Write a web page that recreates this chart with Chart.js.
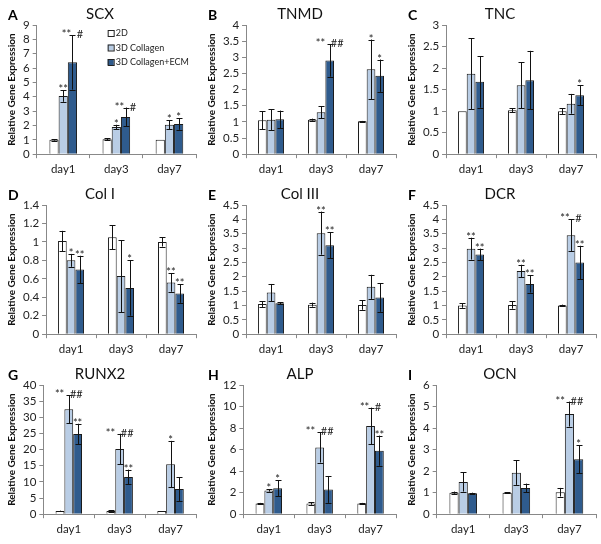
<!DOCTYPE html>
<html>
<head>
<meta charset="utf-8">
<script src="https://cdn.jsdelivr.net/npm/chart.js@4.4.0/dist/chart.umd.min.js"></script>
<style>
  body { margin: 0; background: #fff; }
  #wrap { position: relative; width: 601px; height: 544px; }
  .cell { position: absolute; }
</style>
</head>
<body>
<div id="wrap"></div>
<script>
// categories and groups
const days = ['day1', 'day3', 'day7'];
const groups = ['2D', '3D Collagen', '3D Collagen+ECM'];

// means per group: [2D], [3D Collagen], [3D Collagen+ECM], each over day1/day3/day7
const scxMean = [[1.0, 1.05, 1.0], [4.05, 1.9, 2.05], [6.4, 2.6, 2.1]];
const scxErr = [[0.05, 0.07, 0], [0.4, 0.15, 0.3], [1.9, 0.65, 0.4]];
const scxSig = [['', '', ''], ['**', '*', '*'], ['** #', '** #', '*']];

const tnmdMean = [[1.05, 1.07, 1.02], [1.07, 1.3, 2.63], [1.08, 2.9, 2.43]];
const tnmdErr = [[0.28, 0.03, 0.01], [0.32, 0.18, 0.92], [0.27, 0.5, 0.5]];
const tnmdSig = [['', '', ''], ['', '', '*'], ['', '** ##', '*']];

const tncMean = [[1.0, 1.02, 1.0], [1.87, 1.6, 1.17], [1.68, 1.72, 1.37]];
const tncErr = [[0, 0.05, 0.07], [0.82, 0.53, 0.23], [0.6, 0.68, 0.23]];
const tncSig = [['', '', ''], ['', '', ''], ['', '', '*']];

const col1Mean = [[1.01, 1.05, 1.0], [0.8, 0.63, 0.56], [0.7, 0.5, 0.44]];
const col1Err = [[0.11, 0.13, 0.05], [0.07, 0.39, 0.1], [0.15, 0.3, 0.1]];
const col1Sig = [['', '', ''], ['*', '', '**'], ['**', '*', '**']];

const col3Mean = [[1.05, 1.03, 1.02], [1.45, 3.52, 1.65], [1.08, 3.1, 1.28]];
const col3Err = [[0.1, 0.07, 0.17], [0.3, 0.75, 0.42], [0.03, 0.45, 0.5]];
const col3Sig = [['', '', ''], ['', '**', ''], ['', '**', '']];

const dcrMean = [[1.0, 1.02, 1.0], [2.98, 2.2, 3.45], [2.78, 1.75, 2.5]];
const dcrErr = [[0.08, 0.13, 0.03], [0.38, 0.22, 0.55], [0.2, 0.3, 0.58]];
const dcrSig = [['', '', ''], ['**', '**', '** #'], ['**', '**', '**']];

const runx2Mean = [[1.0, 1.0, 1.0], [32.5, 20.2, 15.5], [24.8, 11.5, 7.8]];
const runx2Err = [[0.1, 0.2, 0], [4.3, 4.7, 7.2], [3.2, 2.3, 3.7]];
const runx2Sig = [['', '', ''], ['** ##', '** ##', '*'], ['**', '**', '']];

const alpMean = [[1.0, 1.0, 1.0], [2.2, 6.2, 8.2], [2.4, 2.3, 5.9]];
const alpErr = [[0.05, 0.12, 0.05], [0.1, 1.4, 1.7], [0.75, 1.25, 1.4]];
const alpSig = [['', '', ''], ['*', '** ##', '** #'], ['*', '', '**']];

const ocnMean = [[1.0, 1.0, 1.02], [1.5, 1.93, 4.65], [0.97, 1.22, 2.55]];
const ocnErr = [[0.05, 0.03, 0.2], [0.45, 0.57, 0.58], [0.03, 0.2, 0.65]];
const ocnSig = [['', '', ''], ['', '', '** ##'], ['', '', '*']];

const fillColors = ['#ffffff', '#b9cde5', '#2f5b8d'];
const FONT = 'Lato, "Open Sans", sans-serif';

const panels = [
    { letter: 'A', name: 'SCX', mean: scxMean, err: scxErr, sig: scxSig, max: 9, step: 1, legend: true },
    { letter: 'B', name: 'TNMD', mean: tnmdMean, err: tnmdErr, sig: tnmdSig, max: 4, step: 0.5 },
    { letter: 'C', name: 'TNC', mean: tncMean, err: tncErr, sig: tncSig, max: 3, step: 0.5 },
    { letter: 'D', name: 'Col I', mean: col1Mean, err: col1Err, sig: col1Sig, max: 1.4, step: 0.2 },
    { letter: 'E', name: 'Col III', mean: col3Mean, err: col3Err, sig: col3Sig, max: 4.5, step: 0.5 },
    { letter: 'F', name: 'DCR', mean: dcrMean, err: dcrErr, sig: dcrSig, max: 4.5, step: 0.5 },
    { letter: 'G', name: 'RUNX2', mean: runx2Mean, err: runx2Err, sig: runx2Sig, max: 40, step: 5 },
    { letter: 'H', name: 'ALP', mean: alpMean, err: alpErr, sig: alpSig, max: 12, step: 2 },
    { letter: 'I', name: 'OCN', mean: ocnMean, err: ocnErr, sig: ocnSig, max: 6, step: 1 }
];

// error bars, significance marks, panel letter and legend
const extras = {
    id: 'extras',
    afterDatasetsDraw(chart, args, opts) {
        const c = chart.ctx;
        const y = chart.scales.y;
        const p = opts.panel;
        c.save();
        c.strokeStyle = '#111';
        c.lineWidth = 1;
        chart.data.datasets.forEach((ds, di) => {
            const meta = chart.getDatasetMeta(di);
            meta.data.forEach((bar, i) => {
                const m = p.mean[di][i], e = p.err[di][i];
                const x = Math.round(bar.x) + 0.5;
                const yt = y.getPixelForValue(m + e), yb = y.getPixelForValue(m - e);
                if (e > 0) {
                    c.beginPath();
                    c.moveTo(x, yt); c.lineTo(x, yb);
                    c.moveTo(x - 3, Math.round(yt) + 0.5); c.lineTo(x + 3, Math.round(yt) + 0.5);
                    c.moveTo(x - 3, Math.round(yb) + 0.5); c.lineTo(x + 3, Math.round(yb) + 0.5);
                    c.stroke();
                }
                const s = p.sig[di][i];
                if (s) {
                    c.fillStyle = '#222';
                    c.font = '11px ' + FONT;
                    c.textAlign = 'center';
                    c.textBaseline = 'alphabetic';
                    c.fillText(s.replace(' ', '  '), bar.x, Math.min(yt, bar.y) + 3);
                }
            });
        });
        c.fillStyle = '#000';
        c.font = 'bold 14px ' + FONT;
        c.textAlign = 'left';
        c.textBaseline = 'middle';
        c.fillText(p.letter, 8, 15);
        if (p.legend) {
            const area = chart.chartArea;
            c.font = '9px ' + FONT;
            groups.forEach((g, gi) => {
                const lx = area.left + 71, ly = area.top + 8 + gi * 14.5;
                c.fillStyle = fillColors[gi];
                c.fillRect(lx, ly - 3, 6, 6);
                c.strokeStyle = '#222';
                c.strokeRect(lx + 0.5, ly - 2.5, 6, 6);
                c.fillStyle = '#222';
                c.fillText(g, lx + 8, ly + 0.5);
            });
        }
        c.restore();
    }
};

const wrap = document.getElementById('wrap');
panels.forEach((p, k) => {
    const col = k % 3, row = Math.floor(k / 3);
    const cv = document.createElement('canvas');
    cv.className = 'cell';
    cv.width = 200;
    cv.height = 180;
    cv.style.left = (col * 200) + 'px';
    cv.style.top = (row * 180) + 'px';
    wrap.appendChild(cv);

    new Chart(cv.getContext('2d'), {
        type: 'bar',
        data: {
            labels: days,
            datasets: groups.map((g, gi) => ({
                label: g,
                data: p.mean[gi],
                backgroundColor: fillColors[gi],
                borderColor: '#1a1a1a',
                borderWidth: 1,
                barPercentage: 1,
                categoryPercentage: 0.52
            }))
        },
        options: {
            responsive: false,
            animation: false,
            layout: { padding: { left: 4, right: 4, top: 0, bottom: 0 } },
            plugins: {
                legend: { display: false },
                tooltip: { enabled: false },
                title: {
                    display: true,
                    text: p.name,
                    color: '#111',
                    font: { family: FONT, size: 15, weight: 'normal' },
                    padding: { top: 5, bottom: 2 }
                },
                extras: { panel: p }
            },
            scales: {
                x: {
                    grid: { display: true, drawOnChartArea: false, offset: true, tickLength: 4, color: '#888' },
                    border: { color: '#888' },
                    ticks: { color: '#222', padding: 4, font: { family: FONT, size: 11.5 } }
                },
                y: {
                    min: 0,
                    max: p.max,
                    grid: { display: true, drawOnChartArea: false, tickLength: 4, color: '#888' },
                    border: { color: '#888' },
                    ticks: {
                        stepSize: p.step,
                        autoSkip: false,
                        color: '#222',
                        font: { family: FONT, size: 11.5 },
                        callback: v => String(+v.toFixed(2))
                    },
                    title: {
                        display: true,
                        text: 'Relative Gene Expression',
                        color: '#111',
                        font: { family: FONT, size: 10, weight: 'bold' },
                        padding: 2
                    }
                }
            }
        },
        plugins: [extras]
    });
});
</script>
</body>
</html>
